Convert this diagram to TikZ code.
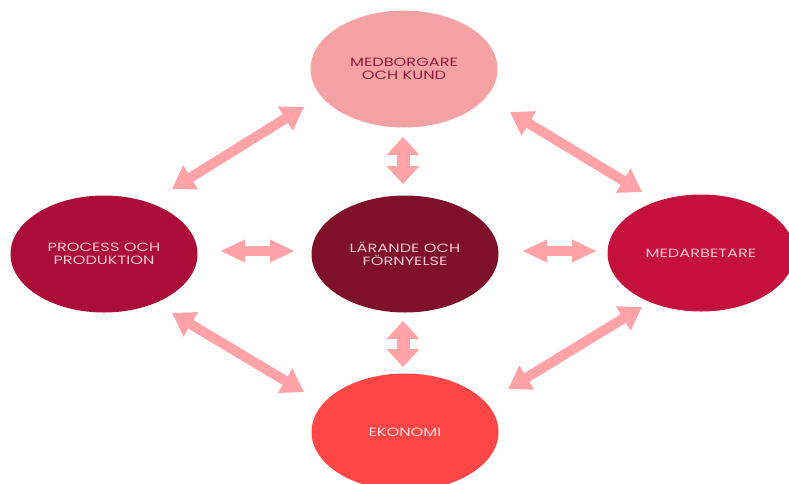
\documentclass[tikz,border=0pt]{standalone}
\usepackage{fontspec}
\newfontfamily\lab[FakeStretch=1.35]{Poppins}
\usetikzlibrary{arrows.meta,shapes.geometric}
\definecolor{ctop}{HTML}{F6A2A5}
\definecolor{ctoptext}{HTML}{8C1C3C}
\definecolor{cleft}{HTML}{AB0D38}
\definecolor{ccenter}{HTML}{7E1129}
\definecolor{cright}{HTML}{C5103E}
\definecolor{cbottom}{HTML}{FF4647}
\definecolor{clighttext}{HTML}{F4C8D2}
\definecolor{carrow}{HTML}{FFA3A8}
\tikzset{
  blob/.style={ellipse, inner sep=0pt, minimum width=187pt, minimum height=117pt,
    align=center, font=\lab\fontsize{12}{13.5}\selectfont, text=clighttext},
  darr/.style={carrow, line width=10pt, {Triangle[length=22pt,width=27pt]}-{Triangle[length=22pt,width=27pt]}},
  harr/.style={carrow, line width=10pt, {Triangle[length=25pt,width=21pt]}-{Triangle[length=25pt,width=21pt]}},
  varr/.style={carrow, line width=13pt, {Triangle[length=18pt,width=32pt]}-{Triangle[length=18pt,width=32pt]}}
}
\begin{document}
\begin{tikzpicture}[x=1pt,y=-1pt]
\useasboundingbox (0,0) rectangle (789,483);
\clip (0,0) rectangle (789,483);
\node[blob, fill=ctop, text=ctoptext] (top) at (404,69) {MEDBORGARE\\OCH KUND};
\node[blob, fill=cleft] (left) at (104,254) {PROCESS OCH\\PRODUKTION};
\node[blob, fill=ccenter] (center) at (405,254) {LÄRANDE OCH\\FÖRNYELSE};
\node[blob, fill=cright] (right) at (701,253) {MEDARBETARE};
\node[blob, fill=cbottom, text=white!80!cbottom] (bottom) at (405,432) {EKONOMI};
% arrow end points
\coordinate (tl1) at (172,189); \coordinate (tl2) at (304,107);
\coordinate (tr1) at (510,112); \coordinate (tr2) at (642,192);
\coordinate (bl1) at (172,313); \coordinate (bl2) at (304,392);
\coordinate (br1) at (508,389); \coordinate (br2) at (642,307);
\coordinate (h1a) at (220,251); \coordinate (h1b) at (295,251);
\coordinate (h2a) at (522,251); \coordinate (h2b) at (597,251);
\coordinate (v1a) at (403,137); \coordinate (v1b) at (403,184);
\coordinate (v2a) at (403,321); \coordinate (v2b) at (403,367);
\draw[darr] (tl1) -- (tl2);
\draw[darr] (tr1) -- (tr2);
\draw[darr] (bl1) -- (bl2);
\draw[darr] (br1) -- (br2);
\draw[harr] (h1a) -- (h1b);
\draw[harr] (h2a) -- (h2b);
\draw[varr] (v1a) -- (v1b);
\draw[varr] (v2a) -- (v2b);
\end{tikzpicture}
\end{document}
